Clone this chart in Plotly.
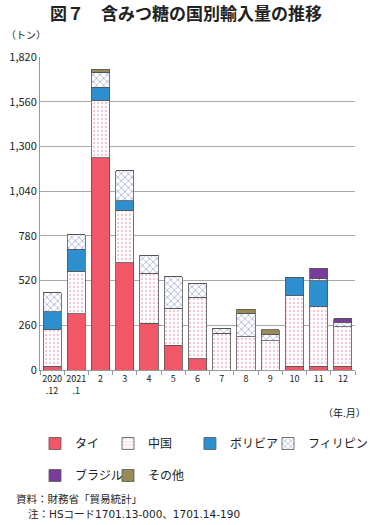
import plotly.graph_objects as go

categories = ["2020<br>.12", "2021<br>.1", "2", "3", "4", "5", "6", "7", "8", "9", "10", "11", "12"]
thai        = [23, 326, 1235, 624, 271, 145, 64, 0, 0, 0, 23, 23, 23]
china       = [214, 248, 331, 306, 291, 214, 359, 213, 194, 171, 409, 345, 229]
bolivia     = [102, 128, 78, 55, 0, 0, 0, 0, 0, 0, 103, 152, 0]
philippines = [111, 85, 87, 174, 105, 182, 81, 29, 136, 36, 0, 10, 27]
brazil      = [0, 0, 0, 0, 0, 0, 0, 0, 0, 0, 0, 61, 19]
others      = [0, 0, 17, 0, 0, 0, 0, 0, 23, 26, 0, 0, 0]
y_ticks = [0, 260, 520, 780, 1040, 1300, 1560, 1820]

FONT = "Noto Sans CJK JP"
line = dict(color="#555555", width=0.8)

# (name, values, marker, legend id)
series = [
    ("タイ", thai, dict(color="#F25767", line=line), "legend"),
    ("中国", china, dict(color="white", line=line,
                        pattern=dict(shape=".", fgcolor="#E98BA6", bgcolor="white", size=4, solidity=0.25)), "legend2"),
    ("ボリビア", bolivia, dict(color="#2E8FD0", line=line), "legend3"),
    ("フィリピン", philippines, dict(color="white", line=line,
                        pattern=dict(shape="x", fgcolor="#4F62B8", bgcolor="white", size=5, solidity=0.3)), "legend4"),
    ("ブラジル", brazil, dict(color="#7A3C9A", line=line), "legend5"),
    ("その他", others, dict(color="#9A8A58", line=line), "legend6"),
]

fig = go.Figure()
for name, vals, marker, lg in series:
    fig.add_trace(go.Bar(x=categories, y=vals, name=name, marker=marker, legend=lg))

def lg(x, y):
    return dict(x=x, y=y, orientation="h", xanchor="left", yanchor="top",
                font=dict(size=12), itemwidth=30, bgcolor="rgba(0,0,0,0)")

row1, row2 = -0.1885, -0.2907
fig.update_layout(
    barmode="stack",
    bargap=0.25,
    width=370, height=525,
    margin=dict(l=40, r=15, t=57, b=155, autoexpand=False),
    plot_bgcolor="white", paper_bgcolor="white",
    font=dict(family=FONT, size=11, color="#222222"),
    showlegend=True,
    legend=lg(-0.0159, row1),
    legend2=lg(0.2159, row1),
    legend3=lg(0.476, row1),
    legend4=lg(0.7238, row1),
    legend5=lg(-0.0159, row2),
    legend6=lg(0.2159, row2),
    annotations=[
        dict(text="<b>図７　含みつ糖の国別輸入量の推移</b>", xref="paper", yref="paper",
             x=0.5, xshift=-12, y=1.0, yshift=45, xanchor="center", yanchor="middle",
             showarrow=False, font=dict(size=17, color="#222222")),
        dict(text="（トン）", xref="paper", yref="paper", x=0, xshift=-36, y=1.0, yshift=23,
             xanchor="left", yanchor="middle", showarrow=False, font=dict(size=10)),
        dict(text="（年.月）", xref="paper", yref="paper", x=1.0, xshift=13, y=0, yshift=-42,
             xanchor="right", yanchor="middle", showarrow=False, font=dict(size=10)),
        dict(text="資料：財務省「貿易統計」", xref="paper", yref="paper", x=0, xshift=-26, y=0, yshift=-128,
             xanchor="left", yanchor="middle", showarrow=False, font=dict(size=10.5)),
        dict(text="注：HSコード1701.13-000、1701.14-190", xref="paper", yref="paper", x=0, xshift=-14, y=0, yshift=-144,
             xanchor="left", yanchor="middle", showarrow=False,
             font=dict(size=10.5, family="DejaVu Sans, Noto Sans CJK JP")),
    ],
)
fig.update_yaxes(range=[0, 1820], tickvals=y_ticks, ticktext=[f"{v:,}" for v in y_ticks],
                 showgrid=True, gridcolor="#AAAAAA", gridwidth=1,
                 showline=True, linecolor="#999999", ticks="", zeroline=False,
                 tickfont=dict(size=11))
fig.update_xaxes(showline=True, linecolor="#999999", ticks="outside", tickson="boundaries",
                 ticklen=4, tickcolor="#999999", tickfont=dict(size=9), tickangle=0)

fig.write_html("out.html", config={"displayModeBar": False},
               post_script="document.body.style.margin='0';document.body.style.overflow='hidden';")
